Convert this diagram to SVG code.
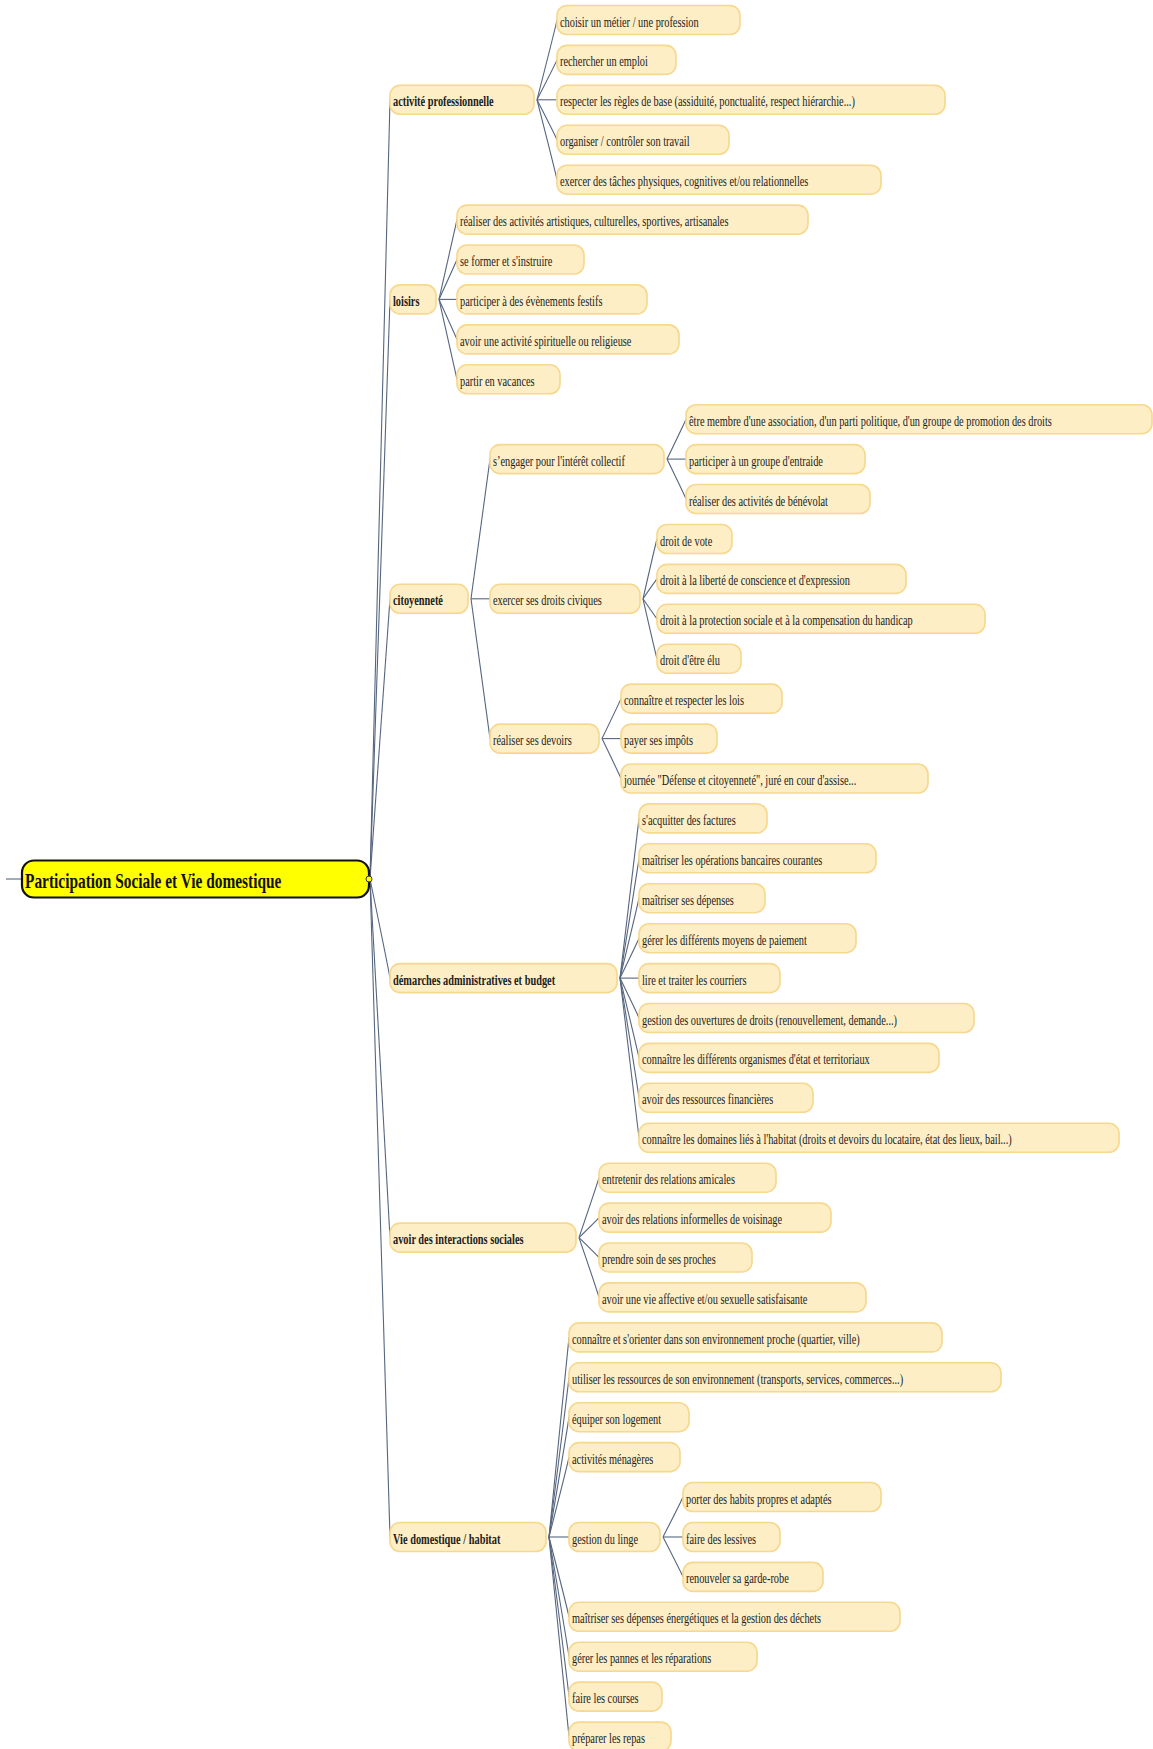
<svg xmlns="http://www.w3.org/2000/svg" width="1153" height="1749" viewBox="0 0 1153 1749">
<style>
.n rect{fill:#fdeec6;stroke:#f6d88e;stroke-width:1.6}
.t{font-family:"Liberation Serif","Times New Roman",serif;font-size:15px;fill:#1c1c1c}
.b{font-weight:bold}
.c path,.c line{fill:none;stroke:#56667f;stroke-width:1.1}
.root rect{fill:#ffff00;stroke:#111;stroke-width:2.2}
.rt{font-family:"Liberation Serif","Times New Roman",serif;font-size:22px;font-weight:bold;fill:#111}
</style>
<g class="c" id="connectors">
<line x1="6" y1="879" x2="22" y2="879"/>
<path d="M370,879 Q388,193.3 390,99.8"/>
<path d="M370,879 Q388,369 390,299.4"/>
<path d="M370,879 Q388,632.4 390,598.8"/>
<path d="M370,879 Q388,966.2 390,978.1"/>
<path d="M370,879 Q388,1194.6 390,1237.6"/>
<path d="M370,879 Q388,1458 390,1537"/>
<path d="M537,99.8 Q555,29.6 557,20"/>
<path d="M537,99.8 Q555,64.7 557,59.9"/>
<path d="M537,99.8 L557,99.8"/>
<path d="M537,99.8 Q555,135 557,139.8"/>
<path d="M537,99.8 Q555,170.1 557,179.7"/>
<path d="M439,299.4 Q455,229.2 457,219.6"/>
<path d="M439,299.4 Q455,264.3 457,259.5"/>
<path d="M439,299.4 L457,299.4"/>
<path d="M439,299.4 Q455,334.6 457,339.4"/>
<path d="M439,299.4 Q455,369.7 457,379.3"/>
<path d="M471,598.8 Q488,475.9 490,459.1"/>
<path d="M471,598.8 L490,598.8"/>
<path d="M471,598.8 Q488,721.8 490,738.6"/>
<path d="M667,459.1 Q684,424 686,419.2"/>
<path d="M667,459.1 L686,459.1"/>
<path d="M667,459.1 Q684,494.2 686,499"/>
<path d="M643,598.8 Q655,546.2 657,539"/>
<path d="M643,598.8 Q655,581.3 657,578.9"/>
<path d="M643,598.8 Q655,616.4 657,618.8"/>
<path d="M643,598.8 Q655,651.5 657,658.7"/>
<path d="M602,738.6 Q619,703.4 621,698.6"/>
<path d="M602,738.6 L621,738.6"/>
<path d="M602,738.6 Q619,773.7 621,778.5"/>
<path d="M620,978.1 Q637,837.6 639,818.4"/>
<path d="M620,978.1 Q637,872.7 639,858.3"/>
<path d="M620,978.1 Q637,907.8 639,898.2"/>
<path d="M620,978.1 Q637,943 639,938.2"/>
<path d="M620,978.1 L639,978.1"/>
<path d="M620,978.1 Q637,1013.2 639,1018"/>
<path d="M620,978.1 Q637,1048.3 639,1057.9"/>
<path d="M620,978.1 Q637,1083.4 639,1097.8"/>
<path d="M620,978.1 Q637,1118.6 639,1137.8"/>
<path d="M579,1237.6 Q597,1184.9 599,1177.7"/>
<path d="M579,1237.6 Q597,1220 599,1217.6"/>
<path d="M579,1237.6 Q597,1255.1 599,1257.5"/>
<path d="M579,1237.6 Q597,1290.2 599,1297.4"/>
<path d="M549,1537 Q567,1361.4 569,1337.4"/>
<path d="M549,1537 Q567,1396.5 569,1377.3"/>
<path d="M549,1537 Q567,1431.6 569,1417.2"/>
<path d="M549,1537 Q567,1466.7 569,1457.1"/>
<path d="M549,1537 L569,1537"/>
<path d="M549,1537 Q567,1607.2 569,1616.8"/>
<path d="M549,1537 Q567,1642.3 569,1656.7"/>
<path d="M549,1537 Q567,1677.4 569,1696.6"/>
<path d="M549,1537 Q567,1712.6 569,1736.6"/>
<path d="M663,1537 Q681,1501.8 683,1497"/>
<path d="M663,1537 L683,1537"/>
<path d="M663,1537 Q681,1572.1 683,1576.9"/>
</g>

<g class="root" id="root">
<rect x="22" y="860.5" width="347" height="37" rx="12"/>
<circle cx="369" cy="879" r="3" fill="#ffff00" stroke="#333" stroke-width="1"/>
<text class="rt" transform="translate(25,887.5) scale(0.70,1)">Participation Sociale et Vie domestique</text>
</g>

<g class="n" id="n-activite"><rect x="390" y="85.3" width="144" height="29" rx="10"/><text class="t b" transform="translate(393,106.3) scale(0.69,1)">activité professionnelle</text></g>
<g class="n" id="n-loisirs"><rect x="390" y="284.9" width="46" height="29" rx="10"/><text class="t b" transform="translate(393,305.9) scale(0.69,1)">loisirs</text></g>
<g class="n" id="n-citoyennete"><rect x="390" y="584.3" width="78" height="29" rx="10"/><text class="t b" transform="translate(393,605.3) scale(0.69,1)">citoyenneté</text></g>
<g class="n" id="n-demarches"><rect x="390" y="963.6" width="227" height="29" rx="10"/><text class="t b" transform="translate(393,984.6) scale(0.69,1)">démarches administratives et budget</text></g>
<g class="n" id="n-interactions"><rect x="390" y="1223.1" width="186" height="29" rx="10"/><text class="t b" transform="translate(393,1244.1) scale(0.69,1)">avoir des interactions sociales</text></g>
<g class="n" id="n-vie"><rect x="390" y="1522.5" width="156" height="29" rx="10"/><text class="t b" transform="translate(393,1543.5) scale(0.69,1)">Vie domestique / habitat</text></g>

<g class="n" id="a1"><rect x="557" y="5.5" width="183" height="29" rx="10"/><text class="t" transform="translate(560,26.5) scale(0.69,1)">choisir un métier / une profession</text></g>
<g class="n" id="a2"><rect x="557" y="45.4" width="119" height="29" rx="10"/><text class="t" transform="translate(560,66.4) scale(0.69,1)">rechercher un emploi</text></g>
<g class="n" id="a3"><rect x="557" y="85.3" width="388" height="29" rx="10"/><text class="t" transform="translate(560,106.3) scale(0.69,1)">respecter les règles de base (assiduité, ponctualité, respect hiérarchie...)</text></g>
<g class="n" id="a4"><rect x="557" y="125.3" width="172" height="29" rx="10"/><text class="t" transform="translate(560,146.3) scale(0.69,1)">organiser / contrôler son travail</text></g>
<g class="n" id="a5"><rect x="557" y="165.2" width="324" height="29" rx="10"/><text class="t" transform="translate(560,186.2) scale(0.69,1)">exercer des tâches physiques, cognitives et/ou relationnelles</text></g>

<g class="n" id="l1"><rect x="457" y="205.1" width="351" height="29" rx="10"/><text class="t" transform="translate(460,226.1) scale(0.69,1)">réaliser des activités artistiques, culturelles, sportives, artisanales</text></g>
<g class="n" id="l2"><rect x="457" y="245" width="127" height="29" rx="10"/><text class="t" transform="translate(460,266) scale(0.69,1)">se former et s'instruire</text></g>
<g class="n" id="l3"><rect x="457" y="284.9" width="190" height="29" rx="10"/><text class="t" transform="translate(460,305.9) scale(0.69,1)">participer à des évènements festifs</text></g>
<g class="n" id="l4"><rect x="457" y="324.9" width="222" height="29" rx="10"/><text class="t" transform="translate(460,345.9) scale(0.69,1)">avoir une activité spirituelle ou religieuse</text></g>
<g class="n" id="l5"><rect x="457" y="364.8" width="103" height="29" rx="10"/><text class="t" transform="translate(460,385.8) scale(0.69,1)">partir en vacances</text></g>

<g class="n" id="c1"><rect x="490" y="444.6" width="174" height="29" rx="10"/><text class="t" transform="translate(493,465.6) scale(0.69,1)">s’engager pour l'intérêt collectif</text></g>
<g class="n" id="c2"><rect x="490" y="584.3" width="150" height="29" rx="10"/><text class="t" transform="translate(493,605.3) scale(0.69,1)">exercer ses droits civiques</text></g>
<g class="n" id="c3"><rect x="490" y="724.1" width="109" height="29" rx="10"/><text class="t" transform="translate(493,745.1) scale(0.69,1)">réaliser ses devoirs</text></g>

<g class="n" id="c1a"><rect x="686" y="404.7" width="466" height="29" rx="10"/><text class="t" transform="translate(689,425.7) scale(0.69,1)">être membre d'une association, d'un parti politique, d'un groupe de promotion des droits</text></g>
<g class="n" id="c1b"><rect x="686" y="444.6" width="179" height="29" rx="10"/><text class="t" transform="translate(689,465.6) scale(0.69,1)">participer à un groupe d'entraide</text></g>
<g class="n" id="c1c"><rect x="686" y="484.5" width="184" height="29" rx="10"/><text class="t" transform="translate(689,505.5) scale(0.69,1)">réaliser des activités de bénévolat</text></g>

<g class="n" id="c2a"><rect x="657" y="524.5" width="75" height="29" rx="10"/><text class="t" transform="translate(660,545.5) scale(0.69,1)">droit de vote</text></g>
<g class="n" id="c2b"><rect x="657" y="564.4" width="249" height="29" rx="10"/><text class="t" transform="translate(660,585.4) scale(0.69,1)">droit à la liberté de conscience et d'expression</text></g>
<g class="n" id="c2c"><rect x="657" y="604.3" width="328" height="29" rx="10"/><text class="t" transform="translate(660,625.3) scale(0.69,1)">droit à la protection sociale et à la compensation du handicap</text></g>
<g class="n" id="c2d"><rect x="657" y="644.2" width="84" height="29" rx="10"/><text class="t" transform="translate(660,665.2) scale(0.69,1)">droit d'être élu</text></g>

<g class="n" id="c3a"><rect x="621" y="684.1" width="161" height="29" rx="10"/><text class="t" transform="translate(624,705.1) scale(0.69,1)">connaître et respecter les lois</text></g>
<g class="n" id="c3b"><rect x="621" y="724.1" width="96" height="29" rx="10"/><text class="t" transform="translate(624,745.1) scale(0.69,1)">payer ses impôts</text></g>
<g class="n" id="c3c"><rect x="621" y="764" width="307" height="29" rx="10"/><text class="t" transform="translate(624,785) scale(0.69,1)">journée "Défense et citoyenneté", juré en cour d'assise...</text></g>

<g class="n" id="d1"><rect x="639" y="803.9" width="128" height="29" rx="10"/><text class="t" transform="translate(642,824.9) scale(0.69,1)">s'acquitter des factures</text></g>
<g class="n" id="d2"><rect x="639" y="843.8" width="237" height="29" rx="10"/><text class="t" transform="translate(642,864.8) scale(0.69,1)">maîtriser les opérations bancaires courantes</text></g>
<g class="n" id="d3"><rect x="639" y="883.7" width="126" height="29" rx="10"/><text class="t" transform="translate(642,904.7) scale(0.69,1)">maîtriser ses dépenses</text></g>
<g class="n" id="d4"><rect x="639" y="923.7" width="217" height="29" rx="10"/><text class="t" transform="translate(642,944.7) scale(0.69,1)">gérer les différents moyens de paiement</text></g>
<g class="n" id="d5"><rect x="639" y="963.6" width="141" height="29" rx="10"/><text class="t" transform="translate(642,984.6) scale(0.69,1)">lire et traiter les courriers</text></g>
<g class="n" id="d6"><rect x="639" y="1003.5" width="335" height="29" rx="10"/><text class="t" transform="translate(642,1024.5) scale(0.69,1)">gestion des ouvertures de droits (renouvellement, demande...)</text></g>
<g class="n" id="d7"><rect x="639" y="1043.4" width="300" height="29" rx="10"/><text class="t" transform="translate(642,1064.4) scale(0.69,1)">connaître les différents organismes d'état et territoriaux</text></g>
<g class="n" id="d8"><rect x="639" y="1083.3" width="174" height="29" rx="10"/><text class="t" transform="translate(642,1104.3) scale(0.69,1)">avoir des ressources financières</text></g>
<g class="n" id="d9"><rect x="639" y="1123.3" width="480" height="29" rx="10"/><text class="t" transform="translate(642,1144.3) scale(0.69,1)">connaître les domaines liés à l'habitat (droits et devoirs du locataire, état des lieux, bail...)</text></g>

<g class="n" id="i1"><rect x="599" y="1163.2" width="177" height="29" rx="10"/><text class="t" transform="translate(602,1184.2) scale(0.69,1)">entretenir des relations amicales</text></g>
<g class="n" id="i2"><rect x="599" y="1203.1" width="232" height="29" rx="10"/><text class="t" transform="translate(602,1224.1) scale(0.69,1)">avoir des relations informelles de voisinage</text></g>
<g class="n" id="i3"><rect x="599" y="1243" width="153" height="29" rx="10"/><text class="t" transform="translate(602,1264) scale(0.69,1)">prendre soin de ses proches</text></g>
<g class="n" id="i4"><rect x="599" y="1282.9" width="267" height="29" rx="10"/><text class="t" transform="translate(602,1303.9) scale(0.69,1)">avoir une vie affective et/ou sexuelle satisfaisante</text></g>

<g class="n" id="v1"><rect x="569" y="1322.9" width="373" height="29" rx="10"/><text class="t" transform="translate(572,1343.9) scale(0.69,1)">connaître et s'orienter dans son environnement proche (quartier, ville)</text></g>
<g class="n" id="v2"><rect x="569" y="1362.8" width="432" height="29" rx="10"/><text class="t" transform="translate(572,1383.8) scale(0.69,1)">utiliser les ressources de son environnement (transports, services, commerces...)</text></g>
<g class="n" id="v3"><rect x="569" y="1402.7" width="120" height="29" rx="10"/><text class="t" transform="translate(572,1423.7) scale(0.69,1)">équiper son logement</text></g>
<g class="n" id="v4"><rect x="569" y="1442.6" width="111" height="29" rx="10"/><text class="t" transform="translate(572,1463.6) scale(0.69,1)">activités ménagères</text></g>
<g class="n" id="v5"><rect x="569" y="1522.5" width="91" height="29" rx="10"/><text class="t" transform="translate(572,1543.5) scale(0.69,1)">gestion du linge</text></g>
<g class="n" id="v6"><rect x="569" y="1602.3" width="331" height="29" rx="10"/><text class="t" transform="translate(572,1623.3) scale(0.69,1)">maîtriser ses dépenses énergétiques et la gestion des déchets</text></g>
<g class="n" id="v7"><rect x="569" y="1642.2" width="188" height="29" rx="10"/><text class="t" transform="translate(572,1663.2) scale(0.69,1)">gérer les pannes et les réparations</text></g>
<g class="n" id="v8"><rect x="569" y="1682.1" width="93" height="29" rx="10"/><text class="t" transform="translate(572,1703.1) scale(0.69,1)">faire les courses</text></g>
<g class="n" id="v9"><rect x="569" y="1722.1" width="102" height="29" rx="10"/><text class="t" transform="translate(572,1743.1) scale(0.69,1)">préparer les repas</text></g>

<g class="n" id="v5a"><rect x="683" y="1482.5" width="198" height="29" rx="10"/><text class="t" transform="translate(686,1503.5) scale(0.69,1)">porter des habits propres et adaptés</text></g>
<g class="n" id="v5b"><rect x="683" y="1522.5" width="97" height="29" rx="10"/><text class="t" transform="translate(686,1543.5) scale(0.69,1)">faire des lessives</text></g>
<g class="n" id="v5c"><rect x="683" y="1562.4" width="140" height="29" rx="10"/><text class="t" transform="translate(686,1583.4) scale(0.69,1)">renouveler sa garde-robe</text></g>
</svg>
